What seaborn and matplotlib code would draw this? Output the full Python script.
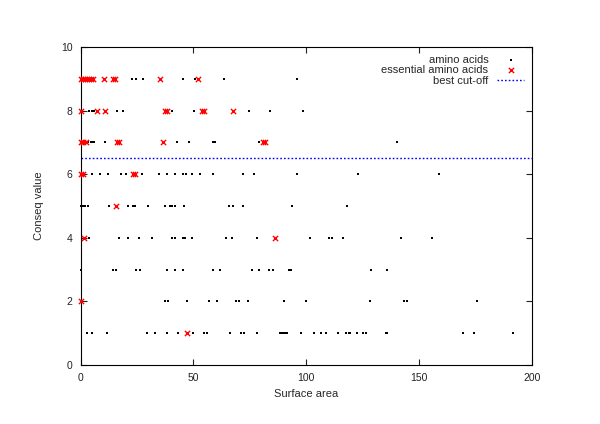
import numpy as np
import pandas as pd
import matplotlib
matplotlib.use("Agg")
import matplotlib.pyplot as plt
import seaborn as sns

# === Data ===
# surface area values of amino acids per conseq level
aa_9 = [22.6, 24.5, 27.5, 45.2, 50.7, 63.5, 96.0]
aa_8 = [3.8, 4.9, 5.9, 16.0, 18.6, 40.3, 50.2, 74.7, 83.9, 98.7]
aa_7 = [3.4, 4.4, 5.3, 5.9, 10.8, 42.5, 48.2, 58.5, 59.5, 79.2, 140.2]
aa_6 = [4.9, 8.6, 12.3, 17.9, 20.1, 27.0, 34.9, 38.1, 41.8, 45.5, 46.7, 49.2,
        52.9, 58.8, 71.8, 77.0, 96.0, 122.9, 159.1]
aa_5 = [0.0, 0.9, 1.9, 3.4, 12.7, 21.1, 23.3, 24.1, 30.0, 37.4, 39.6, 40.3,
        41.8, 45.9, 65.9, 67.4, 71.8, 93.5, 118.0]
aa_4 = [3.8, 17.1, 21.1, 25.8, 31.8, 40.3, 41.8, 45.2, 46.2, 49.2, 64.3, 67.2,
        78.4, 101.9, 110.3, 111.4, 116.1, 142.1, 155.8]
aa_3 = [0.0, 14.2, 15.7, 24.4, 26.3, 38.1, 41.8, 45.5, 58.5, 61.7, 75.8, 79.2,
        83.5, 85.4, 92.3, 93.1, 128.7, 135.7]
aa_2 = [37.4, 38.8, 47.0, 57.0, 60.6, 68.7, 70.3, 74.0, 90.1, 99.7, 128.4,
        143.4, 144.6, 175.9]
aa_1 = [3.0, 5.2, 11.8, 29.2, 32.9, 38.1, 43.0, 49.9, 54.7, 56.1, 66.2, 71.3,
        72.4, 78.4, 88.3, 88.9, 89.5, 90.1, 90.7, 91.3, 97.9, 103.3, 106.5,
        108.9, 113.9, 117.8, 118.8, 119.5, 122.7, 125.1, 126.4, 135.5, 136.0,
        169.4, 174.2, 191.6]

# essential amino acids per conseq level
ess_9 = [0.0, 0.9, 1.9, 3.0, 3.8, 4.6, 5.3, 10.5, 14.5, 15.2, 35.2, 52.1]
ess_8 = [0.0, 7.4, 10.8, 37.4, 38.1, 53.6, 54.7, 67.7]
ess_7 = [0.0, 1.2, 2.4, 16.0, 17.1, 36.6, 80.7, 81.7]
ess_6 = [0.0, 0.9, 23.0, 24.1]
ess_5 = [15.7]
ess_4 = [1.5, 86.1]
ess_2 = [0.0]
ess_1 = [47.0]

best_cutoff = 6.5

aa_levels = {9: aa_9, 8: aa_8, 7: aa_7, 6: aa_6, 5: aa_5, 4: aa_4, 3: aa_3, 2: aa_2, 1: aa_1}
ess_levels = {9: ess_9, 8: ess_8, 7: ess_7, 6: ess_6, 5: ess_5, 4: ess_4, 2: ess_2, 1: ess_1}

aa_df = pd.DataFrame([(x, y) for y, xs in aa_levels.items() for x in xs], columns=["area", "conseq"])
ess_df = pd.DataFrame([(x, y) for y, xs in ess_levels.items() for x in xs], columns=["area", "conseq"])

# === Plot ===
sns.set_style("ticks")
plt.rcParams["font.family"] = ["Liberation Sans", "DejaVu Sans"]

fig = plt.figure(figsize=(6, 4.24), dpi=100)
ax = fig.add_axes([0.1345, 0.139, 0.7517, 0.75])

sns.scatterplot(data=aa_df, x="area", y="conseq", ax=ax, marker="s", s=4,
                color="black", linewidth=0, label="amino acids", clip_on=False, zorder=3)
sns.scatterplot(data=ess_df, x="area", y="conseq", ax=ax, marker="x", s=14,
                color="red", linewidth=1.0, label="essential amino acids",
                clip_on=False, zorder=4)
ax.axhline(best_cutoff, color="blue", linestyle=(0, (1.2, 1.5)), linewidth=1.0,
           label="best cut-off")

ax.set_xlim(0, 200)
ax.set_ylim(0, 10)
ax.set_xticks([0, 50, 100, 150, 200])
ax.set_yticks([0, 2, 4, 6, 8, 10])
ax.tick_params(direction="in", length=4, width=0.8, labelsize=7.5, colors="#222222",
               top=True, right=True, pad=6)
for sp in ax.spines.values():
    sp.set_visible(True)
    sp.set_linewidth(0.8)
    sp.set_color("black")
ax.set_xlabel("Surface area", fontsize=8, labelpad=4)
ax.set_ylabel("Conseq value", fontsize=8, labelpad=12)

ax.legend(loc="upper right", frameon=False, markerfirst=False, fontsize=8,
          handlelength=2.4, handletextpad=0.8, labelspacing=0.05,
          borderaxespad=0.3, markerscale=1.0)

fig.savefig("out.png", dpi=100)
